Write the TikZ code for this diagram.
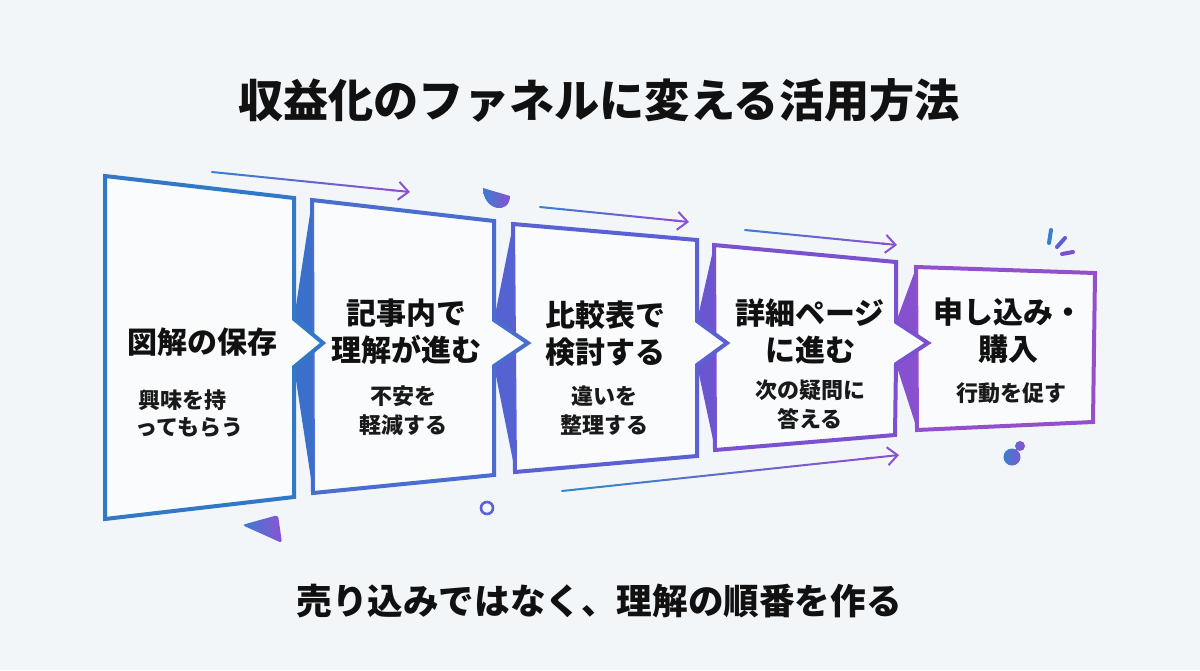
\documentclass[tikz,border=0pt]{standalone}
\usepackage{fontspec}
\setmainfont{Noto Sans CJK JP}
\usetikzlibrary{arrows.meta,calc}
\definecolor{bg}{HTML}{F3F6F9}
\definecolor{pfill}{HTML}{F9FBFD}
\definecolor{cA}{HTML}{3178C6}
\definecolor{cB}{HTML}{4A6DD0}
\definecolor{cC}{HTML}{5B60D3}
\definecolor{cD}{HTML}{7A52D0}
\definecolor{cE}{HTML}{9450CC}
\definecolor{wA}{HTML}{3A70CA}
\definecolor{wB}{HTML}{5462D2}
\definecolor{wC}{HTML}{6C56D0}
\definecolor{wD}{HTML}{8650CE}
\definecolor{gBlue}{HTML}{3A7ED0}
\definecolor{gTeal}{HTML}{2F8CC4}
\definecolor{gPurp}{HTML}{8A52D2}
\definecolor{txt}{HTML}{111111}
\definecolor{subcol}{HTML}{1A1A1A}
\newcommand\gradline[4]{%
  \foreach \k in {0,...,22}{%
    \pgfmathtruncatemacro\pc{100-\k*100/22}%
    \draw[line width=1pt, line cap=round, #3!\pc!#4] ($(#1)!{\k/25}!(#2)$) -- ($(#1)!{(\k+1)/25}!(#2)$);
  }%
  \draw[line width=1pt, #4, -{Straight Barb[length=5pt,width=9pt]}] ($(#1)!0.9!(#2)$) -- (#2);
}
\tikzset{
  panelbox/.style={line width=2pt, fill=pfill, line join=miter},
  headtxt/.style={font=\bfseries\fontsize{15}{18.5}\selectfont, align=center, text=txt, inner sep=0pt},
  subtxt/.style={font=\bfseries\fontsize{11}{14.5}\selectfont, align=center, text=subcol, inner sep=0pt},
  sparkline/.style={line width=2pt, line cap=round}
}
\begin{document}
\begin{tikzpicture}[x=0.5pt,y=-0.5pt]
\useasboundingbox (0,0) rectangle (1200,670);
\fill[bg] (0,0) rectangle (1200,670);

% panel 5
\draw[panelbox, draw=cE] (916,267) -- (1095,273) -- (1093,422) -- (917,430) -- cycle;
% wedge 4-5
\fill[wD] (916,268) -- (896,322) -- (916,335) -- cycle;
\fill[wD] (917,429) -- (896,364) -- (916,351) -- cycle;
% panel 4
\draw[panelbox, draw=cD] (714,245) -- (896,262) -- (896,322) -- (928,343) -- (896,364) -- (895,435) -- (715,450) -- cycle;
% wedge 3-4
\fill[wC] (714,246) -- (697,321) -- (714,333.5) -- cycle;
\fill[wC] (715,449) -- (697,365) -- (714,352.5) -- cycle;
% panel 3
\draw[panelbox, draw=cC] (513,224) -- (697,240) -- (697,321) -- (727,343) -- (697,365) -- (697,456) -- (515,472) -- cycle;
% wedge 2-3
\fill[wB] (513,225) -- (494,320) -- (513,333) -- cycle;
\fill[wB] (515,471) -- (494,366) -- (513,353) -- cycle;
% panel 2
\draw[panelbox, draw=cB] (312,200) -- (494,221) -- (494,320) -- (528,343) -- (494,366) -- (494,475) -- (313,493) -- cycle;
% wedge 1-2
\fill[wA] (312,201) -- (294,319) -- (312,334) -- cycle;
\fill[wA] (313,492) -- (294,367) -- (312,352) -- cycle;
% panel 1
\draw[panelbox, draw=cA] (105,176) -- (294,198) -- (294,319) -- (323,343) -- (294,367) -- (294,497) -- (105,519) -- cycle;

% texts
\node[headtxt] (h1) at (202,342) {図解の保存};
\node[subtxt, anchor=west] (s1a) at (138,400) {興味を持};
\node[subtxt, anchor=west] (s1b) at (135,428) {ってもらう};
\node[headtxt] (h2) at (406,332) {記事内で\\理解が進む};
\node[subtxt] (s2) at (403,411) {不安を\\軽減する};
\node[headtxt] (h3) at (605,334) {比較表で\\検討する};
\node[subtxt] (s3) at (604,411) {違いを\\整理する};
\node[headtxt] (h4) at (810,331) {詳細ページ\\に進む};
\node[subtxt] (s4) at (810,405) {次の疑問に\\答える};
\node[headtxt] (h5) at (1008,331) {申し込み・\\購入};
\node[subtxt] (s5) at (1011,393) {行動を促す};

\node[font=\bfseries\fontsize{22.6}{27}\selectfont, text=txt, inner sep=0pt] (title) at (599,100) {収益化のファネルに変える活用方法};
\node[font=\bfseries\fontsize{17.8}{22}\selectfont, text=txt, inner sep=0pt] (foot) at (599,601) {売り込みではなく、理解の順番を作る};

% arrows
\coordinate (a1s) at (212,172); \coordinate (a1e) at (410,192);
\coordinate (a2s) at (540,207); \coordinate (a2e) at (689,222);
\coordinate (a3s) at (745,230); \coordinate (a3e) at (897,245);
\coordinate (a4s) at (562,491); \coordinate (a4e) at (899,455);
\gradline{a1s}{a1e}{gBlue}{gPurp}
\gradline{a2s}{a2e}{gBlue}{gPurp}
\gradline{a3s}{a3e}{gBlue}{gPurp}
\gradline{a4s}{a4e}{gTeal}{gPurp}

% decorations
\shade[left color=gBlue, right color=gPurp, rounded corners=1.5pt] (242,525) -- (278,515) -- (282,543) -- cycle;
\shade[left color=gBlue, right color=gPurp] (483,188) .. controls (483,211) and (510,215) .. (510,196) -- cycle;
\draw[line width=1.3pt, color=cC] (487,508) circle[radius=6];
\draw[sparkline, color=gBlue] (1051,230) -- (1049,243);
\draw[sparkline, color=cC] (1065,238) -- (1057,247);
\draw[sparkline, color=cD] (1062,254) -- (1073,252);
\shade[left color=gBlue, right color=gPurp] (1012,457) circle[radius=8.5] (1020,446) circle[radius=5];
\end{tikzpicture}
\end{document}
